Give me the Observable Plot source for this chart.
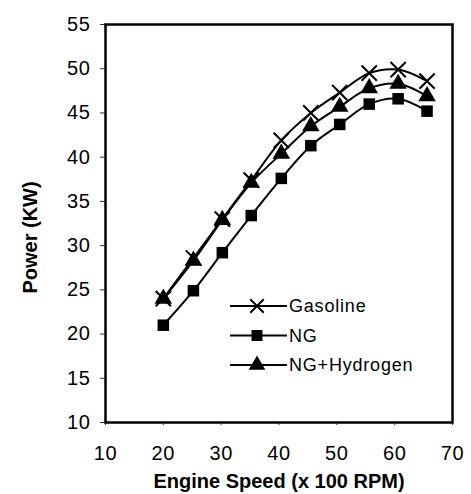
<!DOCTYPE html>
<html>
<head>
<meta charset="utf-8">
<script src="https://cdn.jsdelivr.net/npm/d3@7"></script>
<script src="https://cdn.jsdelivr.net/npm/@observablehq/plot@0.6"></script>
<style>
  html, body { margin: 0; padding: 0; background: #fff; }
  #wrap { position: relative; width: 471px; height: 494px; }
  #wrap svg text { font-family: "Liberation Sans", Arial, sans-serif; }
  g[aria-label="xtitle"] text { letter-spacing: 2.4px; }
  g[aria-label="ytitle"] text { letter-spacing: 2.4px; }
  g[aria-label="y-axis tick label"] text, g[aria-label="x-axis tick label"] text { letter-spacing: 0.6px; }
  #legend { position: absolute; left: 0; top: 0; }
  #legend text { font-family: "Liberation Sans", Arial, sans-serif; font-size: 18px; letter-spacing: 0.8px; }
</style>
</head>
<body>
<div id="wrap"></div>
<script>
const speed = [20, 25.2, 30.2, 35.2, 40.4, 45.5, 50.5, 55.6, 60.6, 65.6];
const gasoline = [24.0, 28.6, 33.0, 37.4, 41.9, 45.0, 47.3, 49.5, 49.9, 48.6];
const ng = [21.0, 24.9, 29.2, 33.4, 37.6, 41.3, 43.7, 46.0, 46.6, 45.2];
const ngHydrogen = [24.0, 28.3, 32.9, 37.1, 40.4, 43.5, 45.7, 47.8, 48.3, 46.9];
const seriesNames = ["Gasoline", "NG", "NG+Hydrogen"];
const xTicks = [10, 20, 30, 40, 50, 60, 70];
const yTicks = [10, 15, 20, 25, 30, 35, 40, 45, 50, 55];
const xTitle = "Engine Speed (x 100 RPM)";
const yTitle = "Power (KW)";

const gas = speed.map((s, i) => ({x: s, y: gasoline[i]}));
const ngD = speed.map((s, i) => ({x: s, y: ng[i]}));
const nghD = speed.map((s, i) => ({x: s, y: ngHydrogen[i]}));

const chart = Plot.plot({
  width: 471,
  height: 494,
  marginLeft: 105,
  marginRight: 19,
  marginTop: 24,
  marginBottom: 72,
  style: {background: "white", color: "black", overflow: "visible"},
  x: {domain: [10, 70]},
  y: {domain: [10, 55]},
  marks: [
    Plot.axisX({ticks: xTicks, tickSize: 3, tickPadding: 20, fontSize: 20, label: null, stroke: "#333"}),
    Plot.axisY({ticks: yTicks, tickSize: 5, tickPadding: 10, fontSize: 20, label: null, stroke: "#333"}),
    Plot.line(gas, {x: "x", y: "y", curve: "catmull-rom", stroke: "black", strokeWidth: 2}),
    Plot.line(nghD, {x: "x", y: "y", curve: "catmull-rom", stroke: "black", strokeWidth: 2}),
    Plot.line(ngD, {x: "x", y: "y", curve: "catmull-rom", stroke: "black", strokeWidth: 2}),
    Plot.dot(gas, {x: "x", y: "y", symbol: "times", r: 7, stroke: "black", strokeWidth: 2}),
    Plot.dot(nghD, {x: "x", y: "y", symbol: "triangle", r: 6.5, fill: "black", stroke: "none"}),
    Plot.dot(ngD, {x: "x", y: "y", symbol: "square", r: 6.5, fill: "black", stroke: "none"}),
    Plot.frame({stroke: "black", strokeWidth: 2.5}),
    Plot.text([xTitle], {frameAnchor: "bottom", dy: 65, fontSize: 20, fontWeight: "bold", ariaLabel: "xtitle"}),
    Plot.text([yTitle], {frameAnchor: "left", dx: -75, dy: 14, rotate: -90, textAnchor: "middle", fontSize: 20, fontWeight: "bold", ariaLabel: "ytitle"})
  ]
});
const wrap = document.getElementById("wrap");
wrap.appendChild(chart);

// Legend overlay
const legend = d3.select(wrap).append("svg")
  .attr("id", "legend").attr("width", 471).attr("height", 494);
const symbols = [d3.symbolTimes, d3.symbolSquare, d3.symbolTriangle];
const rows = legend.selectAll("g").data(seriesNames).join("g")
  .attr("transform", (d, i) => `translate(230, ${306 + i * 29.5})`);
rows.append("line").attr("x1", 0).attr("x2", 57).attr("y1", 0).attr("y2", 0)
  .attr("stroke", "black").attr("stroke-width", 2);
rows.append("path")
  .attr("transform", "translate(27,0)")
  .attr("d", (d, i) => d3.symbol(symbols[i], 120)())
  .attr("fill", (d, i) => i === 0 ? "none" : "black")
  .attr("stroke", (d, i) => i === 0 ? "black" : "none")
  .attr("stroke-width", 2);
rows.append("text").attr("x", 59).attr("y", 0).attr("dy", "0.35em").text(d => d);
</script>
</body>
</html>
